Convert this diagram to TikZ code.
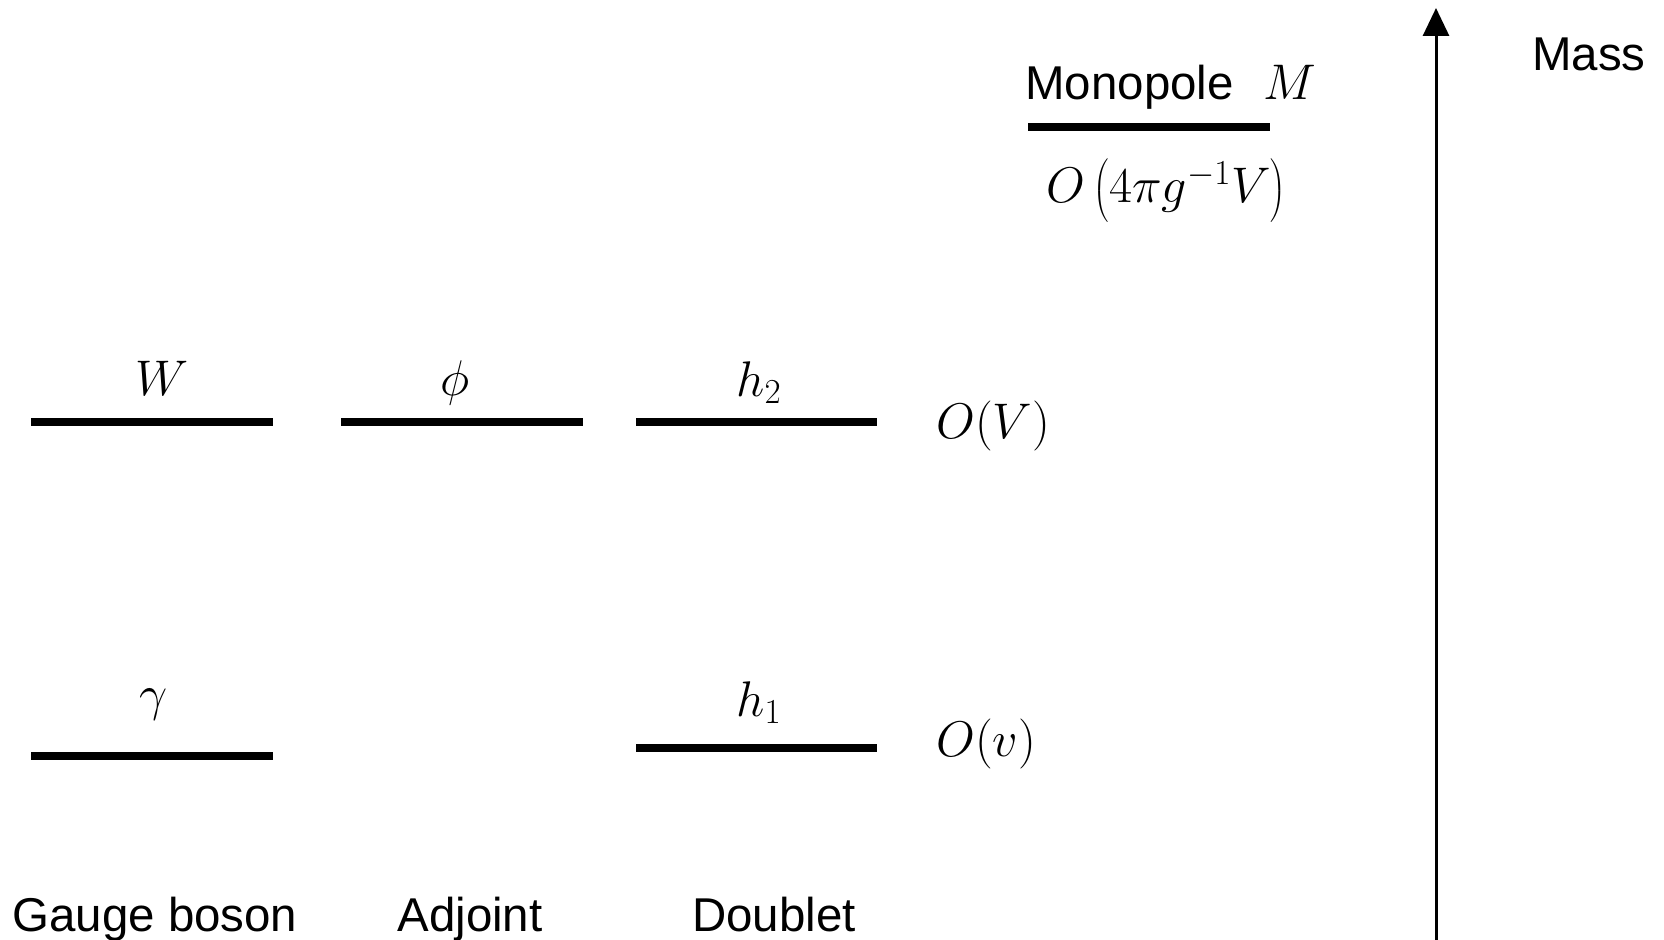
\RequirePackage{fix-cm}
\documentclass[tikz,border=0pt]{standalone}
\usepackage[no-math]{fontspec}
\setmainfont{Liberation Sans}
\usetikzlibrary{arrows.meta}

\begin{document}
\begin{tikzpicture}[
  lvl/.style={line width=4pt},
  arr/.style={-{Triangle[length=0.56cm,width=0.52cm]},line width=1.7pt},
  lbl/.style={inner sep=0pt,anchor=base,font=\fontsize{27}{32}\selectfont},
  mth/.style={lbl,font=\fontsize{28.5}{34}\selectfont}
]
\useasboundingbox (0,0) rectangle (33.28,-18.8);
% levels
\draw[lvl] (0.62,-8.44) -- (5.46,-8.44);
\draw[lvl] (6.82,-8.44) -- (11.66,-8.44);
\draw[lvl] (12.72,-8.44) -- (17.54,-8.44);
\draw[lvl] (0.62,-15.12) -- (5.46,-15.12);
\draw[lvl] (12.72,-14.96) -- (17.54,-14.96);
\draw[lvl] (20.56,-2.54) -- (25.4,-2.54);
% particle labels
\node[mth] (mW) at (3.24,-7.9) {$W$};
\node[mth] (mphi) at (9.1,-7.9) {$\phi$};
\node[mth] (mh2) at (15.18,-7.92) {$h_2$};
\node[mth] (mgamma) at (3.08,-14.2) {$\gamma$};
\node[mth] (mh1) at (15.18,-14.32) {$h_1$};
% scales
\node[mth,anchor=base west] (oV) at (18.72,-8.76) {$O(V)$};
\node[mth,anchor=base west] (ov) at (18.72,-15.12) {$O(v)$};
\node[lbl,anchor=base west] (mono) at (20.5,-2.0) {Monopole};
\node[mth] (mM) at (25.8,-2.0) {$M$};
\node[mth] (oMono) at (23.33,-4.06) {$O\left(\vrule height 0.85em depth 0.3em width 0pt 4\pi g^{-1}V\right)$};
% columns
\node[lbl] (gauge) at (3.1,-18.62) {Gauge boson};
\node[lbl] (adj) at (9.4,-18.62) {Adjoint};
\node[lbl] (doub) at (15.48,-18.62) {Doublet};
% mass axis
\coordinate (axisbot) at (28.72,-18.8);
\coordinate (axistop) at (28.72,-0.16);
\draw[arr] (axisbot) -- (axistop);
\node[lbl,anchor=base west] (mass) at (30.64,-1.42) {Mass};
\end{tikzpicture}
\end{document}
